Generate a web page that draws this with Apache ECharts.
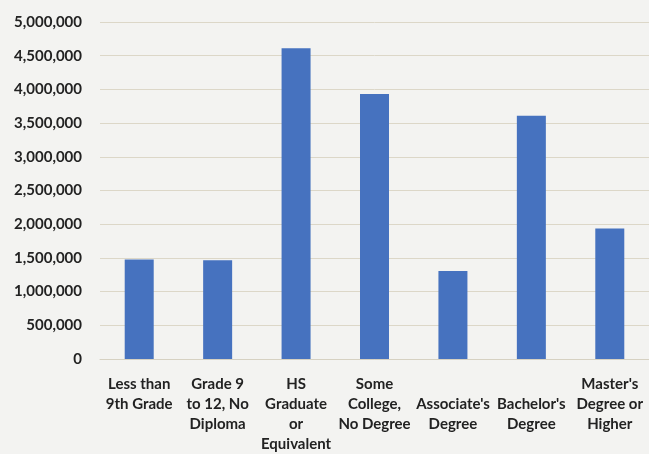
<!DOCTYPE html>
<html>
<head>
<meta charset="utf-8">
<script src="https://cdn.jsdelivr.net/npm/echarts@6/dist/echarts.min.js"></script>
<style>
  html, body { margin: 0; padding: 0; background: #f3f3f1; }
  #chart { width: 649px; height: 454px; }
</style>
</head>
<body>
<div id="chart"></div>
<script>
// Educational attainment categories (line breaks as laid out under each bar;
// a blank first line pushes the two-line labels down one row)
const categories = [
  'Less than\n9th Grade',
  'Grade 9\nto 12, No\nDiploma',
  'HS\nGraduate\nor\nEquivalent',
  'Some\nCollege,\nNo Degree',
  ' \nAssociate\'s\nDegree',
  ' \nBachelor\'s\nDegree',
  'Master\'s\nDegree or\nHigher'
];

// Number of people in each category
const population = [1475000, 1465000, 4610000, 3930000, 1305000, 3610000, 1938000];

// Value axis range
const yMin = 0;
const yMax = 5000000;
const yStep = 500000;

const chart = echarts.init(document.getElementById('chart'), null, { renderer: 'canvas' });

const labelFont = 'Lato, "Open Sans", sans-serif';

chart.setOption({
  backgroundColor: '#f3f3f1',
  animation: false,
  grid: { left: 100, top: 22, width: 551, height: 338, containLabel: false },
  xAxis: {
    type: 'category',
    data: categories,
    axisTick: { show: false },
    axisLine: { show: true, lineStyle: { color: '#d6d1c2', width: 1 } },
    axisLabel: {
      interval: 0,
      color: '#222222',
      fontFamily: labelFont,
      fontWeight: 'bold',
      fontSize: 15,
      lineHeight: 20,
      margin: 15,
      align: 'center'
    }
  },
  yAxis: {
    type: 'value',
    min: yMin,
    max: yMax,
    interval: yStep,
    axisLine: { show: false },
    axisTick: { show: false },
    splitLine: { lineStyle: { color: '#dcd7c8', width: 1 } },
    axisLabel: {
      color: '#222222',
      fontFamily: labelFont,
      fontWeight: 'bold',
      fontSize: 15,
      margin: 18,
      formatter: v => v.toLocaleString('en-US')
    }
  },
  series: [{
    type: 'bar',
    data: population,
    barWidth: 29,
    itemStyle: { color: '#4672bf' }
  }]
});
</script>
</body>
</html>
